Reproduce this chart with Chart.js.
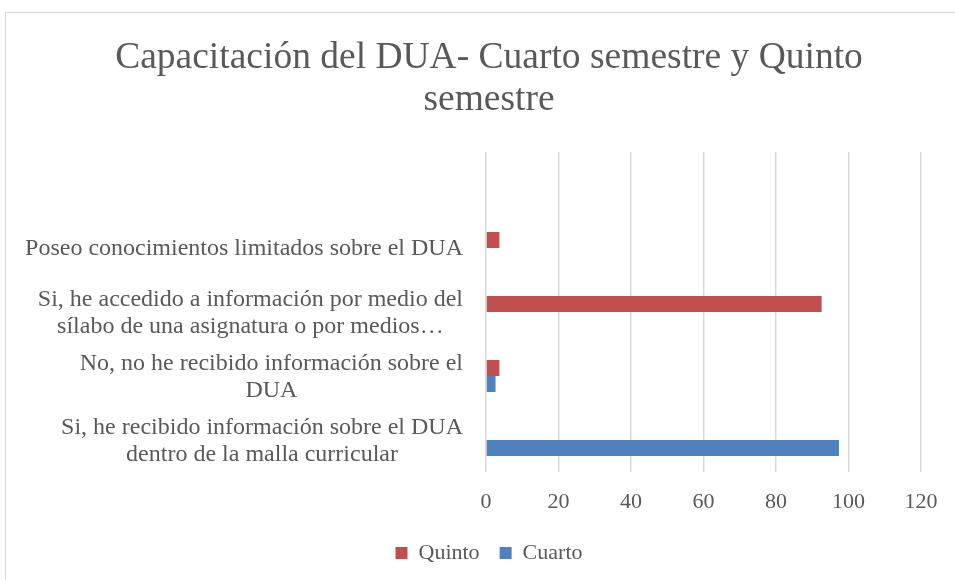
<!DOCTYPE html>
<html lang="es">
<head>
<meta charset="utf-8">
<title>Capacitación del DUA</title>
<script src="https://cdn.jsdelivr.net/npm/chart.js@4.4.1/dist/chart.umd.min.js"></script>
<style>
    html, body { margin: 0; padding: 0; background: #fff; overflow: hidden; width: 955px; height: 580px; }
    #marco {
        position: absolute; left: 5px; top: 12px;
        width: 980px; height: 600px;
        border: 1px solid #d9d9d9; box-sizing: border-box;
    }
    /* el gráfico completo es algo más ancho que la ventana, como el original */
    #contenedor { position: absolute; left: 0; top: 0; width: 978px; height: 580px; }
</style>
</head>
<body>
<div id="marco"></div>
<div id="contenedor"><canvas id="grafico"></canvas></div>
<script>
// ==================== DATOS ====================
// Categorías de arriba hacia abajo (la primera está vacía, como en el original)
const categorias = [
    '',
    'Poseo conocimientos limitados sobre el DUA',
    ['Si, he accedido a información por medio del', 'sílabo de una asignatura o por medios…'],
    ['No, no he recibido información sobre el', 'DUA'],
    ['Si, he recibido información sobre el DUA', 'dentro de la malla curricular']
];
const valoresQuinto = [null, 3.7, 92.59, 3.7, null];
const valoresCuarto = [null, null, null, 2.63, 97.37];
const ticksX = [0, 20, 40, 60, 80, 100, 120];

const tituloLineas = ['Capacitación del DUA- Cuarto semestre y Quinto', 'semestre'];

const GRIS_TEXTO = '#595959';
const FUENTE = '"Liberation Serif", "Times New Roman", serif';

// Etiquetas del eje Y: bloque alineado a la derecha, líneas centradas entre sí
const etiquetasY = {
    id: 'etiquetasY',
    afterDraw(chart) {
        const ctx = chart.ctx;
        const escala = chart.scales.y;
        const derecha = chart.chartArea.left - 23;
        const alto = 27;
        ctx.save();
        ctx.font = '24px ' + FUENTE;
        ctx.fillStyle = GRIS_TEXTO;
        ctx.textAlign = 'center';
        ctx.textBaseline = 'middle';
        categorias.forEach((cat, i) => {
            const lineas = Array.isArray(cat) ? cat : [cat];
            const anchoMax = Math.max(...lineas.map(l => ctx.measureText(l).width));
            const cx = derecha - anchoMax / 2;
            const y0 = escala.getPixelForValue(i) + 1 - (lineas.length - 1) * alto / 2;
            lineas.forEach((l, j) => ctx.fillText(l, cx, y0 + j * alto));
        });
        ctx.restore();
    }
};

// Altura fija de la leyenda para acercarla al eje
const alturaLeyenda = {
    id: 'alturaLeyenda',
    beforeInit(chart) {
        const leyenda = chart.legend;
        if (!leyenda) return;
        const fitOriginal = leyenda.fit;
        leyenda.fit = function () {
            fitOriginal.call(this);
            this.height = 58;
        };
    }
};

function crearGrafico() {
    const ctx = document.getElementById('grafico').getContext('2d');
    new Chart(ctx, {
        type: 'bar',
        data: {
            labels: categorias,
            datasets: [
                { label: 'Quinto', data: valoresQuinto, backgroundColor: '#C0504D' },
                { label: 'Cuarto', data: valoresCuarto, backgroundColor: '#4F81BD' }
            ]
        },
        options: {
            indexAxis: 'y',
            responsive: true,
            maintainAspectRatio: false,
            animation: false,
            categoryPercentage: 0.5,
            barPercentage: 1,
            layout: { padding: 0 },
            scales: {
                x: {
                    min: 0,
                    max: 120,
                    afterBuildTicks: (eje) => { eje.ticks = ticksX.map(v => ({ value: v })); },
                    afterFit: (eje) => { eje.height = 50; },
                    grid: { color: '#d9d9d9', lineWidth: 1.5, drawTicks: false },
                    border: { display: false },
                    ticks: { color: GRIS_TEXTO, padding: 17, font: { family: FUENTE, size: 22 } }
                },
                y: {
                    afterFit: (eje) => { eje.width = 486; },
                    grid: { display: false },
                    border: { display: false },
                    ticks: { display: false }
                },
                // margen derecho del área de trazado
                margen: {
                    type: 'category',
                    position: 'right',
                    display: true,
                    afterFit: (eje) => { eje.width = 57; },
                    grid: { display: false },
                    border: { display: false },
                    ticks: { display: false }
                }
            },
            plugins: {
                title: {
                    display: true,
                    text: tituloLineas,
                    color: GRIS_TEXTO,
                    font: { family: FUENTE, size: 37.5, weight: 'normal', lineHeight: 1.12 },
                    padding: { top: 37, bottom: 31 }
                },
                legend: {
                    position: 'bottom',
                    labels: {
                        color: GRIS_TEXTO,
                        boxWidth: 12,
                        boxHeight: 12,
                        padding: 20,
                        font: { family: FUENTE, size: 22 }
                    }
                },
                tooltip: { enabled: false }
            }
        },
        plugins: [etiquetasY, alturaLeyenda]
    });
}

crearGrafico();
</script>
</body>
</html>
